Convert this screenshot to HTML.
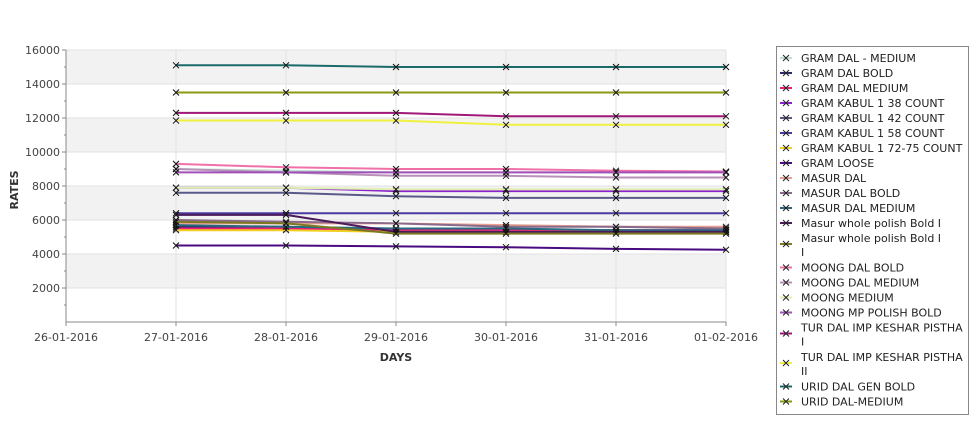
<!DOCTYPE html>
<html><head><meta charset="utf-8"><style>
body{margin:0;background:#fff;font-family:"Liberation Sans","DejaVu Sans",sans-serif;}
svg text{font-family:"DejaVu Sans","Liberation Sans",sans-serif;}
</style></head><body>
<svg width="975" height="429" viewBox="0 0 975 429" xmlns="http://www.w3.org/2000/svg">
<g id="bands"></g><g id="grid"></g><g id="axes"></g><g id="series"></g><g id="legend"></g>
<text x="18" y="190" font-size="11" font-weight="bold" fill="#333" transform="rotate(-90 18 190)" text-anchor="middle">RATES</text>
<text x="396" y="361" font-size="11" font-weight="bold" fill="#333" text-anchor="middle">DAYS</text>
</svg>
<script>
const categories=["26-01-2016","27-01-2016","28-01-2016","29-01-2016","30-01-2016","31-01-2016","01-02-2016"];
const yTicks=[2000,4000,6000,8000,10000,12000,14000,16000];
const seriesNames=["GRAM DAL - MEDIUM","GRAM DAL BOLD","GRAM DAL MEDIUM","GRAM KABUL 1 38 COUNT","GRAM KABUL 1 42 COUNT","GRAM KABUL 1 58 COUNT","GRAM KABUL 1 72-75 COUNT","GRAM LOOSE","MASUR DAL","MASUR DAL BOLD","MASUR DAL MEDIUM","Masur whole polish Bold I","Masur whole polish Bold I|I","MOONG DAL BOLD","MOONG DAL MEDIUM","MOONG MEDIUM","MOONG MP POLISH BOLD","TUR DAL IMP KESHAR PISTHA|I","TUR DAL IMP KESHAR PISTHA|II","URID DAL GEN BOLD","URID DAL-MEDIUM"];
const seriesColors=["#bfe0d0","#2a2a6a","#e8207a","#8a20d0","#5a5a8a","#4a3aa0","#f0d020","#4a0a80","#e8a090","#8a6a8a","#2a6a80","#4a1a5a","#7a7a20","#f070a8","#b890b8","#e0f0b0","#a050b8","#a01878","#f0f040","#1a6a6a","#8a9a10"];
// values for days 27,28,29,30,31 Jan and 01 Feb
const s0=[9000,8900,8800,8800,8800,8800];
const s1=[5600,5600,5400,5400,5400,5400];
const s2=[5500,5500,5400,5400,5400,5400];
const s3=[7900,7900,7700,7700,7700,7700];
const s4=[7600,7600,7400,7300,7300,7300];
const s5=[6400,6400,6400,6400,6400,6400];
const s6=[5400,5400,5300,5300,5300,5300];
const s7=[4500,4500,4450,4400,4300,4250];
const s8=[5800,5800,5800,5700,5600,5600];
const s9=[6000,5900,5800,5600,5600,5500];
const s10=[5700,5600,5500,5500,5400,5400];
const s11=[6300,6300,5300,5300,5300,5300];
const s12=[5900,5800,5200,5200,5200,5200];
const s13=[9300,9100,9000,9000,8900,8850];
const s14=[9000,8800,8600,8600,8500,8500];
const s15=[7900,7900,7800,7800,7800,7800];
const s16=[8800,8800,8800,8800,8800,8800];
const s17=[12300,12300,12300,12100,12100,12100];
const s18=[11850,11850,11850,11600,11600,11600];
const s19=[15100,15100,15000,15000,15000,15000];
const s20=[13500,13500,13500,13500,13500,13500];
const seriesValues=[s0,s1,s2,s3,s4,s5,s6,s7,s8,s9,s10,s11,s12,s13,s14,s15,s16,s17,s18,s19,s20];

const NS="http://www.w3.org/2000/svg";
const X0=66,X1=726,Y0=322,Y1=50,YMAX=16000;
const xs=i=>X0+(X1-X0)*i/(categories.length-1);
const ys=v=>Y0-(Y0-Y1)*v/YMAX;
function mk(tag,attrs,parent){const e=document.createElementNS(NS,tag);for(const k in attrs)e.setAttribute(k,attrs[k]);parent.appendChild(e);return e;}
const bands=document.getElementById('bands'),grid=document.getElementById('grid'),axes=document.getElementById('axes'),series=document.getElementById('series'),legend=document.getElementById('legend');
for(let v=0;v<YMAX;v+=2000){const b=mk('rect',{x:X0,y:ys(v+2000),width:X1-X0,height:ys(v)-ys(v+2000),fill:((v/2000)%2==1)?'#f2f2f2':'#ffffff'},bands);

}
yTicks.forEach(t=>{const l=mk('line',{x1:X0,x2:X1,y1:ys(t),y2:ys(t),stroke:'#e2e2e2'},grid);


const tk=mk('line',{x1:X0-4,x2:X0,y1:ys(t),y2:ys(t),stroke:'#888'},axes);


const tx=mk('text',{x:X0-6,y:ys(t)+4,'font-size':11,fill:'#444','text-anchor':'end'},axes);tx.textContent=t;

});
for(let v=1000;v<YMAX;v+=2000){const m=mk('line',{x1:X0-2,x2:X0,y1:ys(v),y2:ys(v),stroke:'#888'},axes);

}
categories.forEach((c,i)=>{const l=mk('line',{x1:xs(i),x2:xs(i),y1:Y1,y2:Y0,stroke:'#e2e2e2'},grid);


const tk=mk('line',{x1:xs(i),x2:xs(i),y1:Y0,y2:Y0+4,stroke:'#888'},axes);


const tx=mk('text',{x:xs(i),y:Y0+19,'font-size':11,fill:'#444','text-anchor':'middle'},axes);tx.textContent=c;

});
const ax=mk('path',{d:`M${X0} ${Y1}V${Y0}H${X1}`,stroke:'#888',fill:'none'},axes);


seriesValues.forEach((vals,si)=>{const g=mk('g',{},series);


const pts=vals.map((v,i)=>xs(i+1)+','+ys(v)).join(' ');
const pl=mk('polyline',{points:pts,fill:'none',stroke:seriesColors[si],'stroke-width':2},g);


vals.forEach((v,i)=>{const x=xs(i+1),y=ys(v);const p=mk('path',{d:`M${x-3} ${y-3}L${x+3} ${y+3}M${x-3} ${y+3}L${x+3} ${y-3}`,stroke:'#111','stroke-width':1},g);

});});
const lb=mk('rect',{x:776.5,y:46.5,width:192,height:368,fill:'#fff',stroke:'#888'},legend);


let ly=58;
seriesNames.forEach((n,si)=>{const parts=n.split('|');const g=mk('g',{},legend);


const cy=parts.length>1?ly+6:ly;
mk('line',{x1:780,x2:792,y1:cy,y2:cy,stroke:seriesColors[si],'stroke-width':2},g);
mk('path',{d:`M783 ${cy-3}L789 ${cy+3}M783 ${cy+3}L789 ${cy-3}`,stroke:'#222'},g);
parts.forEach((p,k)=>{const t=mk('text',{x:801,y:ly+4+k*14,'font-size':11,fill:'#222'},g);t.textContent=(k>0?'  ':'')+p;

});
ly+=parts.length>1?29.5:15;});
</script>
</body></html>
